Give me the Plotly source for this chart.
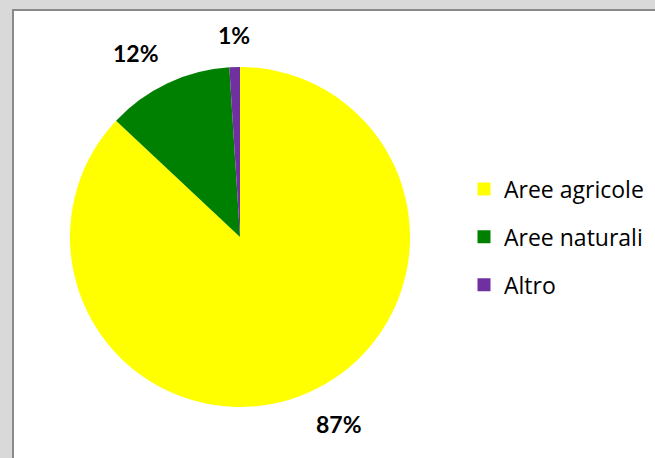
import math
import plotly.graph_objects as go

categories = ["Aree agricole", "Aree naturali", "Altro"]
values = [87, 12, 1]
colors = ["#FFFF00", "#008000", "#7030A0"]

W, H = 655, 458
cx, cy, R = 240, 237, 170  # pie centre / radius in pixels

fig = go.Figure(go.Pie(
    labels=categories, values=values, sort=False, direction="clockwise",
    rotation=0, marker=dict(colors=colors, line=dict(width=0)),
    textinfo="none", hoverinfo="label+percent", showlegend=False,
    domain=dict(x=[(cx - R) / W, (cx + R) / W], y=[(H - cy - R) / H, (H - cy + R) / H]),
))

# legend entries (square swatches) built from the same categories/colours
for cat, col in zip(categories, colors):
    fig.add_trace(go.Scatter(x=[None], y=[None], mode="markers", name=cat,
                             legendgroup=cat, hoverinfo="skip",
                             marker=dict(symbol="square", size=13, color=col)))

# percentage labels placed outside at each slice's mid angle
total = sum(values)
acc = 0
ann = []
gap = 16
for v in values:
    mid = (acc + v / 2) / total * 2 * math.pi
    acc += v
    dx, dy = math.sin(mid), -math.cos(mid)  # screen: dy positive = down
    px = cx + (R + gap) * dx
    py = cy + (R + gap) * dy
    xa = "left" if dx > 0.1 else ("right" if dx < -0.1 else "center")
    ya = "top" if dy > 0 else "bottom"
    ann.append(dict(x=px / W, y=1 - py / H, xref="paper", yref="paper",
                    text=f"<b>{round(v / total * 100)}%</b>", showarrow=False,
                    xanchor=xa, yanchor=ya,
                    font=dict(family="Lato, Open Sans, sans-serif", size=23, color="black")))

fig.update_layout(
    width=W, height=H,
    margin=dict(l=0, r=0, t=0, b=0),
    paper_bgcolor="#d9d9d9",
    plot_bgcolor="rgba(0,0,0,0)",
    xaxis=dict(visible=False), yaxis=dict(visible=False),
    showlegend=True,
    legend=dict(x=464 / W, y=1 - 237 / H, xanchor="left", yanchor="middle",
                font=dict(family="Open Sans, sans-serif", size=23, color="black"),
                bgcolor="rgba(0,0,0,0)", tracegroupgap=15),
    annotations=ann,
    shapes=[dict(type="rect", xref="paper", yref="paper", layer="below",
                 x0=13 / W, x1=1.02, y0=-0.02, y1=1 - 10 / H,
                 fillcolor="white", line=dict(color="#8a8a8a", width=2))],
)

fig.write_html("out.html")
